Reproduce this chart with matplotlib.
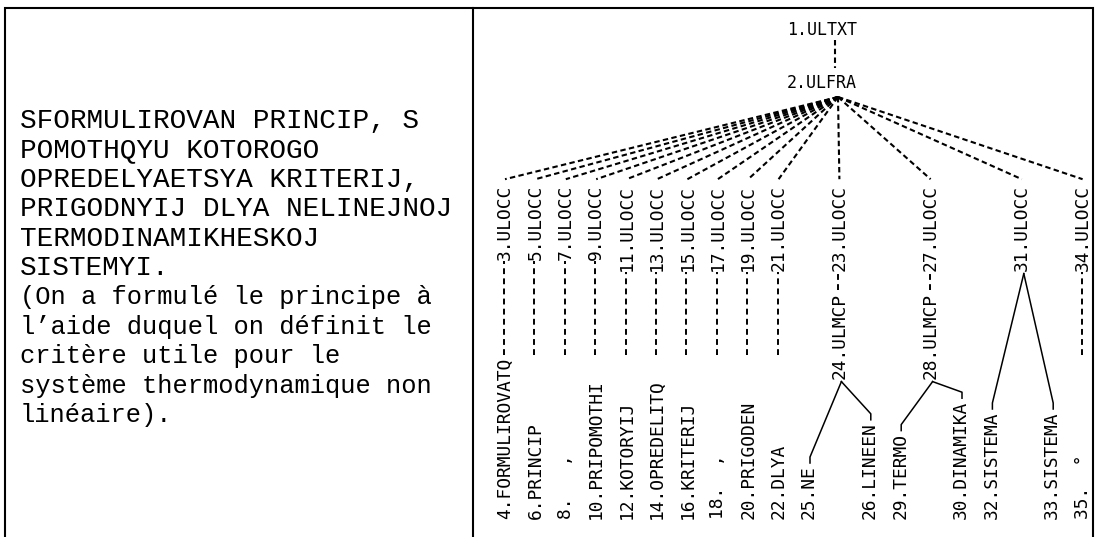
import matplotlib
matplotlib.use('Agg')
import matplotlib.pyplot as plt

# left panel text (transliterated russian + french gloss)
ru_lines = ["SFORMULIROVAN PRINCIP, S", "POMOTHQYU KOTOROGO", "OPREDELYAETSYA KRITERIJ,",
            "PRIGODNYIJ DLYA NELINEJNOJ", "TERMODINAMIKHESKOJ", "SISTEMYI."]
fr_lines = ["(On a formulé le principe à", "l’aide duquel on définit le", "critère utile pour le",
            "système thermodynamique non", "linéaire)."]

# tree: root, fragment, occurrences
root_label = "1.ULTXT"
frag_label = "2.ULFRA"
occ_labels = ["3.ULOCC", "5.ULOCC", "7.ULOCC", "9.ULOCC", "11.ULOCC", "13.ULOCC", "15.ULOCC",
              "17.ULOCC", "19.ULOCC", "21.ULOCC", "23.ULOCC", "27.ULOCC", "31.ULOCC", "34.ULOCC"]
occ_cols = [0, 1, 2, 3, 4, 5, 6, 7, 8, 9, 11, 14, 17, 19]
# compound nodes sitting under an occurrence
mcp_labels = ["24.ULMCP", "28.ULMCP"]
mcp_cols = [11, 14]
# words printed at the bottom of each column
word_labels = ["4.FORMULIROVATQ", "6.PRINCIP", "8.   ,", "10.PRIPOMOTHI", "12.KOTORYIJ",
               "14.OPREDELITQ", "16.KRITERIJ", "18.  ,", "20.PRIGODEN", "22.DLYA", "25.NE",
               "26.LINEEN", "29.TERMO", "30.DINAMIKA", "32.SISTEMA", "33.SISTEMA", "35.  °"]
word_cols = [0, 1, 2, 3, 4, 5, 6, 7, 8, 9, 10, 12, 13, 15, 16, 18, 19]
# solid branches: parent column -> child word columns
branches = {11: [10, 12], 14: [13, 15], 17: [16, 18]}

W, H = 1097, 537
fig = plt.figure(figsize=(W / 100, H / 100), dpi=100)
ax = fig.add_axes([0, 0, 1, 1])
ax.set_xlim(0, W)
ax.set_ylim(H, 0)
ax.axis('off')

# frame
ax.plot([5, 5, 1093, 1093], [H, 8, 8, H], color='black', lw=1.5, solid_joinstyle='miter')
ax.plot([473, 473], [8, H], color='black', lw=1.5)

# left text
y = 128
for s in ru_lines:
    ax.text(20, y, s, fontsize=20, family='Liberation Mono', va='baseline', ha='left')
    y += 29.4
for s in fr_lines:
    ax.text(20, y, s, fontsize=18.4, family='Liberation Mono', va='baseline', ha='left')
    y += 29.4

# printout grid for the tree
col_x = [505 + 30.4 * i for i in range(20)]
PITCH = 10.8
Y0 = 519
FS = 12.9
MONO = 'DejaVu Sans Mono'
dash = (0, (2.6, 1.6))
vdash = (0, (3.0, 2.2))


def ypos(ch):
    return Y0 - ch * PITCH


def vtext(col, ch, s):
    ax.text(col_x[col], ypos(ch), s, rotation=90, rotation_mode='anchor',
            ha='left', va='center', fontsize=FS, family=MONO)


def vdashes(col, c0, c1):
    x = col_x[col] - 1
    ax.plot([x, x], [ypos(c0) - 2, ypos(c1) + 1], color='black', lw=1.4, linestyle=vdash)


for lab, c in zip(word_labels, word_cols):
    vtext(c, 0, lab)

for lab, c in zip(occ_labels, occ_cols):
    start = 31 - len(lab)
    vtext(c, start, lab)
    if c in mcp_cols:
        vdashes(c, 21, start)
    elif c in word_cols:
        vdashes(c, 15, start)

for lab, c in zip(mcp_labels, mcp_cols):
    vtext(c, 13, lab)

# solid branches
for p, kids in branches.items():
    s = 13 if p in mcp_cols else 23
    px, py = col_x[p] + 2, ypos(s) + 3
    for k in kids:
        L = len(word_labels[word_cols.index(k)])
        ky = ypos(L)
        ax.plot([px, col_x[k] + 1, col_x[k] + 1], [py, ky - 8, ky - 2], color='black', lw=1.1)

# root / fragment and dashed fan
ax.text(787, 35, root_label, fontsize=12, family=MONO, va='baseline', ha='left')
ax.text(787, 88, frag_label, fontsize=12, family=MONO, va='baseline', ha='left')
ax.plot([835, 835], [40, 68], color='black', lw=1.5, linestyle=dash)
hub_x, hub_y = 838, 97
for c in occ_cols:
    ax.plot([hub_x, col_x[c]], [hub_y, ypos(31) - 5], color='black', lw=1.5, linestyle=dash)

fig.savefig('out.png', dpi=100)
